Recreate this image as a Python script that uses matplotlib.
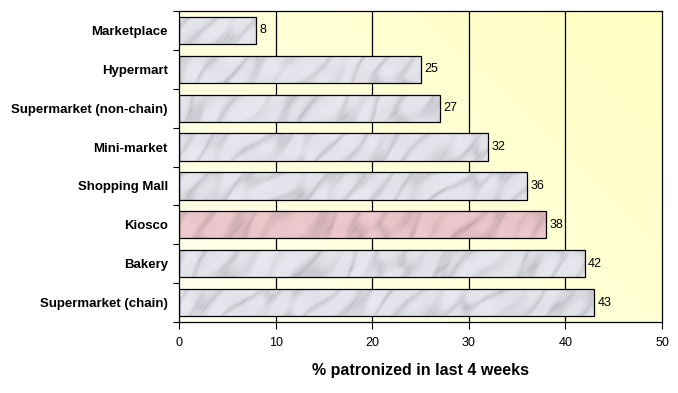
import numpy as np
import matplotlib
matplotlib.use("Agg")
import matplotlib.pyplot as plt
from matplotlib.patches import Rectangle

# Share of respondents who used each outlet type
outlets = ["Marketplace", "Hypermart", "Supermarket (non-chain)", "Mini-market",
           "Shopping Mall", "Kiosco", "Bakery", "Supermarket (chain)"]
pct = [8, 25, 27, 32, 36, 38, 42, 43]
highlight = "Kiosco"

plt.rcParams["font.family"] = ["Liberation Sans", "DejaVu Sans"]

fig = plt.figure(figsize=(6.78, 3.93), dpi=100)
ax = fig.add_axes([179 / 678, 1 - 322 / 393, 483 / 678, 311 / 393])

# pale yellow gradient behind the plot area
gx, gy = np.meshgrid(np.linspace(0, 1, 200), np.linspace(0, 1, 120))
g = np.clip((gx * 0.6 + gy * 0.4), 0, 1)
bg = np.zeros(g.shape + (3,))
bg[..., 0] = 1.0
bg[..., 1] = 1.0
bg[..., 2] = 0.93 - 0.17 * g
ax.imshow(bg, extent=(0, 1, 0, 1), transform=ax.transAxes, origin="lower",
          aspect="auto", zorder=0)

# soft marble-like texture for the bar fill
tx, ty = np.meshgrid(np.linspace(0, 50, 900), np.linspace(-0.5, 7.5, 320))
u = tx * 0.8 + ty * 2.6
w = (np.sin(u * 0.9 + 1.6 * np.sin(tx * 0.31) + 1.2 * np.sin(ty * 1.7))
     + 0.5 * np.sin(u * 2.3 + 1.4 * np.cos(tx * 0.7 - ty * 1.3)))
veins = np.exp(-(w ** 2) / 0.25)
fine = np.exp(-(np.sin(u * 4.1 + 2.2 * np.sin(tx * 1.3 + ty * 3.0))) ** 2 / 0.08)
mottle = 0.5 + 0.5 * np.sin(tx * 1.1 + np.sin(ty * 3.0) * 2) * np.sin(ty * 3.3 + tx * 0.5)
shade = 0.93 - 0.09 * veins - 0.06 * fine * veins - 0.03 * mottle


def tinted(rgb):
    img = np.empty(shade.shape + (3,))
    for i, c in enumerate(rgb):
        img[..., i] = np.clip(shade * c / 0.93, 0, 1)
    return img


grey_img = tinted((0.91, 0.91, 0.94))
pink_img = tinted((0.94, 0.79, 0.81))

bar_h = 0.7
for i, (name, v) in enumerate(zip(outlets, pct)):
    rect = Rectangle((0, i - bar_h / 2), v, bar_h, facecolor="none",
                     edgecolor="black", linewidth=0.9, zorder=4)
    ax.add_patch(rect)
    img = pink_img if name == highlight else grey_img
    im = ax.imshow(img, extent=(0, 50, 7.5, -0.5), origin="upper",
                   aspect="auto", zorder=3, interpolation="bilinear")
    im.set_clip_path(rect)
    ax.text(v + 0.35, i, str(v), va="center", ha="left", fontsize=9, zorder=5)

ax.set_xlim(0, 50)
ax.set_ylim(7.5, -0.5)
ax.set_xticks(np.arange(0, 51, 10))
ax.set_yticks(np.arange(-0.5, 8, 1))
ax.set_yticklabels([])
ax.set_yticks(np.arange(len(outlets)), minor=True)
ax.set_yticklabels(outlets, minor=True, fontsize=9.5, fontweight="bold")
ax.tick_params(axis="y", which="minor", length=0, pad=8)
ax.tick_params(axis="y", which="major", length=4, direction="out")
ax.tick_params(axis="x", length=5, direction="out", labelsize=9, pad=6)
for x in range(10, 50, 10):
    ax.axvline(x, color="black", linewidth=0.9, zorder=2)
for s in ax.spines.values():
    s.set_color("black")
    s.set_linewidth(0.9)
    s.set_zorder(6)

ax.set_xlabel("% patronized in last 4 weeks", fontsize=11.5, fontweight="bold", labelpad=10)

fig.savefig("out.png", dpi=100)
